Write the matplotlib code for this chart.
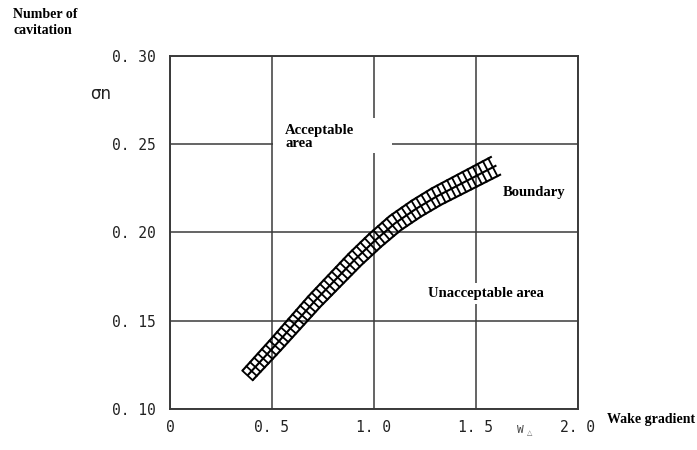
import numpy as np
import matplotlib
matplotlib.use("Agg")
import matplotlib.pyplot as plt
from matplotlib.patches import Rectangle

# Données (centre de la bande "Boundary")
wake_gradient = [0.38, 0.5, 0.6, 0.7, 0.8, 0.9, 1.0, 1.1, 1.2, 1.3, 1.4, 1.5, 1.6]
sigma_n = [0.119, 0.134, 0.147, 0.160, 0.172, 0.184, 0.195, 0.205, 0.213, 0.220, 0.226, 0.232, 0.238]

x_ticks = [0, 0.5, 1.0, 1.5, 2.0]
x_labels = ["0", "0. 5", "1. 0", "1. 5", "2. 0"]
y_ticks = [0.10, 0.15, 0.20, 0.25, 0.30]
y_labels = ["0. 10", "0. 15", "0. 20", "0. 25", "0. 30"]

W, H = 697, 450
fig = plt.figure(figsize=(W / 100, H / 100), dpi=100)
ax_l, ax_b, ax_w, ax_h = 170, 41, 408, 353
ax = fig.add_axes([ax_l / W, ax_b / H, ax_w / W, ax_h / H])

ax.set_xlim(0, 2.0)
ax.set_ylim(0.10, 0.30)

line_col = "#3a3a3a"
mono = "DejaVu Sans Mono"
serif = "Liberation Serif"

ax.set_xticks(x_ticks)
ax.set_xticklabels(x_labels, fontfamily=mono, fontsize=10.5, color="#222222")
ax.set_yticks(y_ticks)
ax.set_yticklabels(y_labels, fontfamily=mono, fontsize=10.5, color="#222222")
ax.tick_params(axis="x", length=0, pad=8)
ax.tick_params(axis="y", length=0, pad=10)
ax.grid(True, color=line_col, linewidth=1.1)
ax.set_axisbelow(True)
for s in ax.spines.values():
    s.set_color(line_col)
    s.set_linewidth(1.4)

# trous blancs dans le quadrillage autour des textes
ax.add_patch(Rectangle((0.505, 0.245), 0.585, 0.020, facecolor="white",
                       edgecolor="none", zorder=1))
ax.add_patch(Rectangle((1.26, 0.1595), 0.34, 0.012, facecolor="white",
                       edgecolor="none", zorder=1))

# bande hachurée (double échelle) calculée en pixels
sx = ax_w / 2.0
sy = ax_h / 0.20
px = np.array(wake_gradient) * sx
py = (np.array(sigma_n) - 0.10) * sy
seg = np.hypot(np.diff(px), np.diff(py))
s = np.concatenate([[0], np.cumsum(seg)])
ss = np.linspace(0, s[-1], int(s[-1]) * 2)
qx = np.interp(ss, s, px)
qy = np.interp(ss, s, py)
dx = np.gradient(qx)
dy = np.gradient(qy)
nrm = np.hypot(dx, dy)
nx, ny = -dy / nrm, dx / nrm
hw = 7.0 + 3.0 * ss / ss[-1]

def to_data(X, Y):
    return X / sx, Y / sy + 0.10

for k in (-1, 0, 1):
    xx, yy = to_data(qx + k * hw * nx, qy + k * hw * ny)
    ax.plot(xx, yy, color="black", lw=1.5, zorder=3, solid_capstyle="butt")

step = 5.8
for d in np.arange(0, s[-1] + 0.1, step):
    i = np.argmin(np.abs(ss - d))
    x0, y0 = to_data(qx[i] - hw[i] * nx[i], qy[i] - hw[i] * ny[i])
    x1, y1 = to_data(qx[i] + hw[i] * nx[i], qy[i] + hw[i] * ny[i])
    ax.plot([x0, x1], [y0, y1], color="black", lw=1.3, zorder=3)

# textes
ax.text(0.565, 0.2615, "Acceptable\narea", fontfamily=serif, fontweight="bold",
        fontsize=10.5, va="top", ha="left", linespacing=1.05, zorder=4)
ax.text(1.63, 0.2225, "Boundary", fontfamily=serif, fontweight="bold",
        fontsize=10.5, va="center", ha="left", zorder=4)
ax.text(1.265, 0.1655, "Unacceptable area", fontfamily=serif, fontweight="bold",
        fontsize=10.5, va="center", ha="left", zorder=4)

fig.text(13 / W, 1 - 8 / H, "Number of\ncavitation", fontfamily=serif,
         fontweight="bold", fontsize=10, va="top", ha="left", linespacing=1.3)
fig.text(90 / W, 1 - 94 / H, "σn", fontsize=12, va="center", ha="left",
         color="#222222")
fig.text(517 / W, 1 - 430 / H, "W", fontfamily=mono, fontsize=8, va="center",
         ha="left", color="#444444")
fig.text(527 / W, 1 - 433 / H, "△", fontsize=5, va="center", ha="left",
         color="#666666")
fig.text(607 / W, 1 - 419 / H, "Wake gradient", fontfamily=serif,
         fontweight="bold", fontsize=10, va="center", ha="left")

fig.savefig("out.png", dpi=100)
plt.close(fig)
